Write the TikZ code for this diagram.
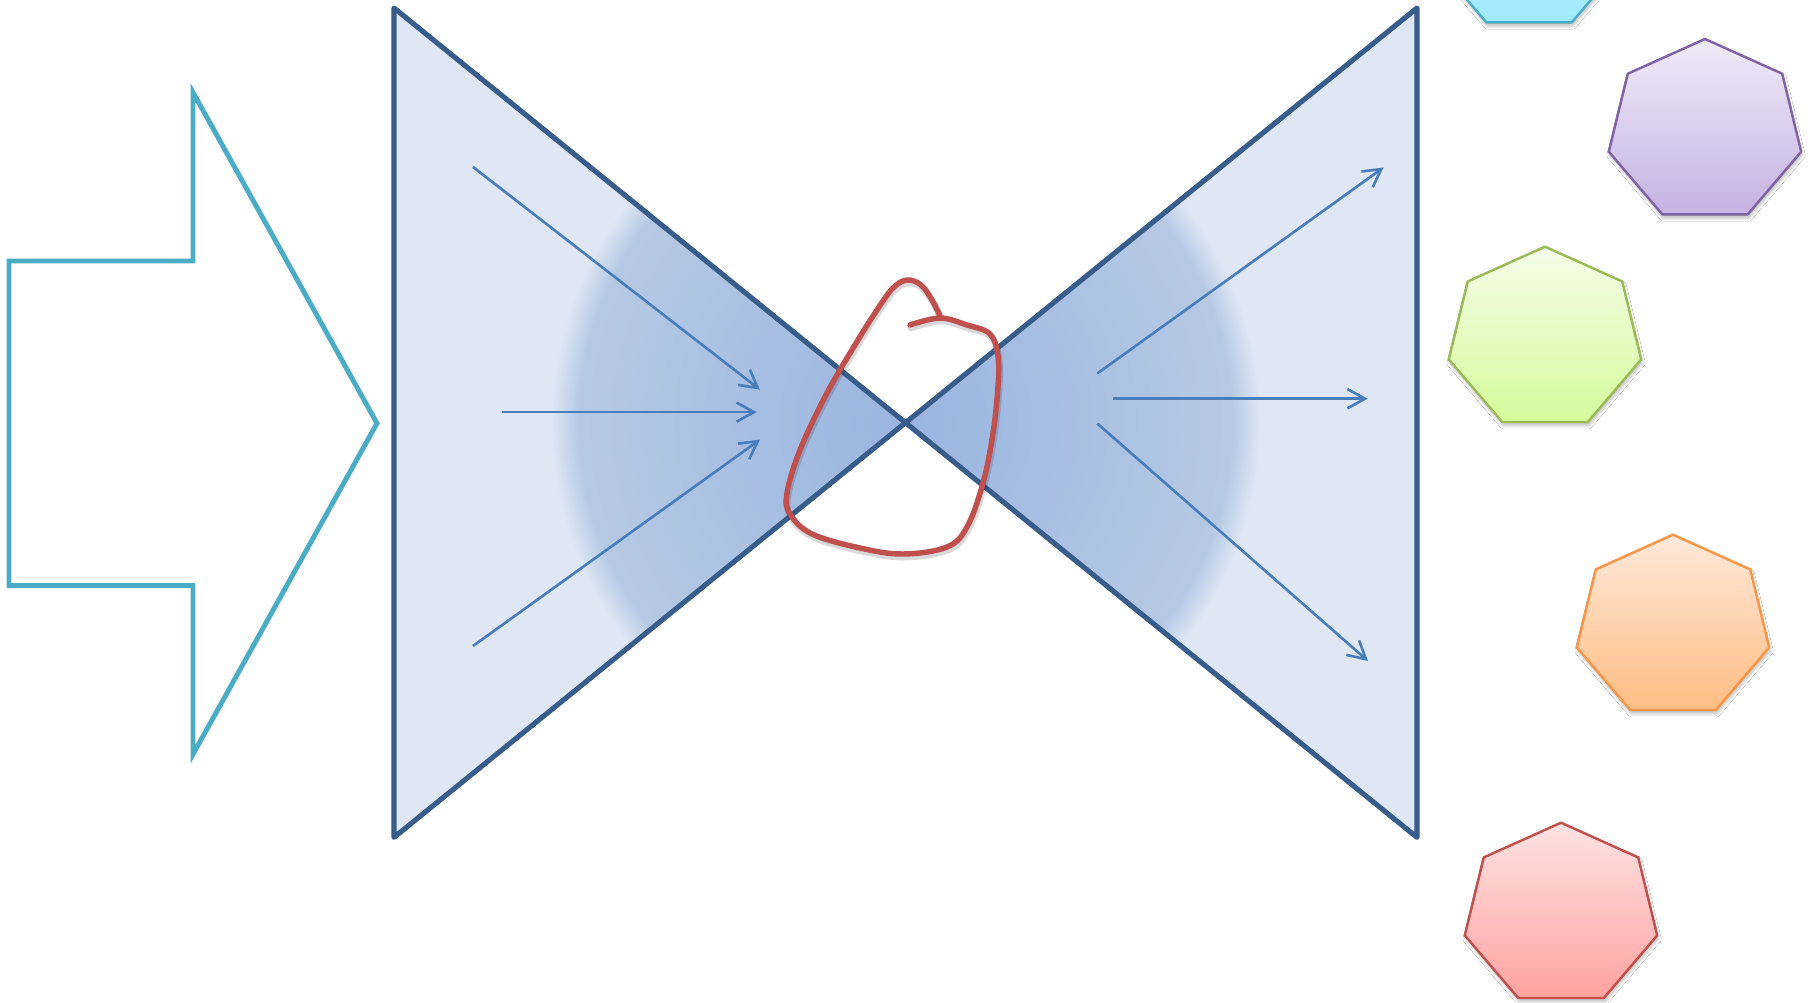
\documentclass[tikz,border=0pt]{standalone}
\usetikzlibrary{arrows.meta,shadows.blur}
\definecolor{bowfill}{HTML}{DFE7F4}
\definecolor{bowline}{HTML}{385D8A}
\definecolor{glowc}{HTML}{9AB4E1}
\definecolor{glowm}{HTML}{B2C7E4}
\definecolor{glowe}{HTML}{B5C9E5}
\definecolor{arrowblue}{HTML}{4A7EBB}
\definecolor{knotred}{HTML}{C0504D}
\definecolor{aqua}{HTML}{4BACC6}
\definecolor{purpleline}{HTML}{8064A2}
\definecolor{greenline}{HTML}{9BBB59}
\definecolor{orangeline}{HTML}{F79646}
\definecolor{redline}{HTML}{C0504D}
\definecolor{cyantop}{HTML}{D3F5FD}
\definecolor{cyanbot}{HTML}{9EEAFC}
\definecolor{purtop}{HTML}{EFEAF7}
\definecolor{purbot}{HTML}{C6B2E4}
\definecolor{grntop}{HTML}{F4FDE8}
\definecolor{grnbot}{HTML}{D6FA9B}
\definecolor{orgtop}{HTML}{FFE9DA}
\definecolor{orgbot}{HTML}{FFBD84}
\definecolor{redtop}{HTML}{FFE2E2}
\definecolor{redbot}{HTML}{FFA3A1}
\pgfdeclareradialshading{bowglow}{\pgfpoint{0bp}{0bp}}{color(0bp)=(glowc); color(20bp)=(glowm); color(23bp)=(glowe); color(25bp)=(bowfill); color(50bp)=(bowfill)}
\tikzset{
  ray/.style={draw=arrowblue, line width=1.5pt, -{Straight Barb[length=10pt,width=11pt,line width=1.5pt]}},
  heptbox/.style={line width=1.4pt, line join=round,
    blur shadow={shadow xshift=0.6pt, shadow yshift=-2.2pt, shadow blur steps=6, shadow opacity=25}},
  bowedge/.style={draw=bowline, line width=2.9pt, line join=round},
  bigarrow/.style={draw=aqua, line width=2.8pt, line join=miter}
}
\newcommand{\heptagon}[6]{%
  \begin{scope}[shift={(#1,#2)}]
    \shade[heptbox, draw=#6, top color=#4, bottom color=#5]
      (0,-92.2) coordinate (#3) -- (77.2,-57.5) -- (96.2,20.5) -- (42.8,83.1)
      -- (-42.8,83.1) -- (-96.2,20.5) -- (-77.2,-57.5) -- cycle;
  \end{scope}}
\begin{document}
\begin{tikzpicture}[x=0.02cm, y=-0.02cm]
\fill[white] (0,0) rectangle (1811,1003);
\useasboundingbox (0,0) rectangle (1811,1003);

% big block arrow
\draw[bigarrow] (9,261) -- (193,261) -- (193,92.4) -- (377,423.3) -- (193,754.2)
  -- (193,585.5) -- (9,585.5) -- cycle;

% bow tie
\coordinate (tl) at (394,8);
\coordinate (bl) at (394,837.4);
\coordinate (tr) at (1417,8);
\coordinate (br) at (1417,837.4);
\coordinate (ctr) at (905.5,422.7);
\fill[bowfill] (tl) -- (br) -- (tr) -- (bl) -- cycle;
\begin{scope}
  \clip (tl) -- (br) -- (tr) -- (bl) -- cycle;
  \shade[shading=bowglow] (ctr) circle (355);
\end{scope}
\draw[bowedge] (tl) -- (br) -- (tr) -- (bl) -- cycle;

% incoming rays
\coordinate (a1s) at (473,167);   \coordinate (a1e) at (760,389.7);
\coordinate (a2s) at (502.3,412.1); \coordinate (a2e) at (756.7,412.1);
\coordinate (a3s) at (473,646);   \coordinate (a3e) at (760,439.6);
\draw[ray] (a1s) -- (a1e);
\draw[ray] (a2s) -- (a2e);
\draw[ray] (a3s) -- (a3e);

% outgoing rays
\coordinate (b1s) at (1097.3,373.5); \coordinate (b1e) at (1383.5,167.5);
\coordinate (b2s) at (1113.3,398.7); \coordinate (b2e) at (1367.7,398.7);
\coordinate (b3s) at (1097.3,423.5); \coordinate (b3e) at (1368,661);
\draw[ray] (b1s) -- (b1e);
\draw[ray] (b2s) -- (b2e);
\draw[ray] (b3s) -- (b3e);

% red loop
\def\knotpts{(910,325) (940,318) (967,325) (990,334) (998,356) (998,386) (993,433) (983,483) (967,527) (947,547) (903,554) (860,548) (812,534) (790,514) (787,493) (800,450) (827,393) (858,340) (877,310) (893,288) (907,280) (921,285) (932,300) (941,318)}
\begin{scope}[shift={(1,3)}]
  \draw[black, opacity=0.15, line width=3.8pt, line cap=round, line join=round]
    plot[smooth, tension=0.6] coordinates {\knotpts};
\end{scope}
\draw[knotred, line width=3.1pt, line cap=round, line join=round]
  plot[smooth, tension=0.6] coordinates {\knotpts};

% heptagons
\heptagon{1529}{-60.8}{hc}{cyantop}{cyanbot}{aqua}
\heptagon{1705}{131.2}{hp}{purtop}{purbot}{purpleline}
\heptagon{1545}{338.9}{hg}{grntop}{grnbot}{greenline}
\heptagon{1673}{626.9}{ho}{orgtop}{orgbot}{orangeline}
\heptagon{1561}{914.9}{hr}{redtop}{redbot}{redline}
\end{tikzpicture}
\end{document}
